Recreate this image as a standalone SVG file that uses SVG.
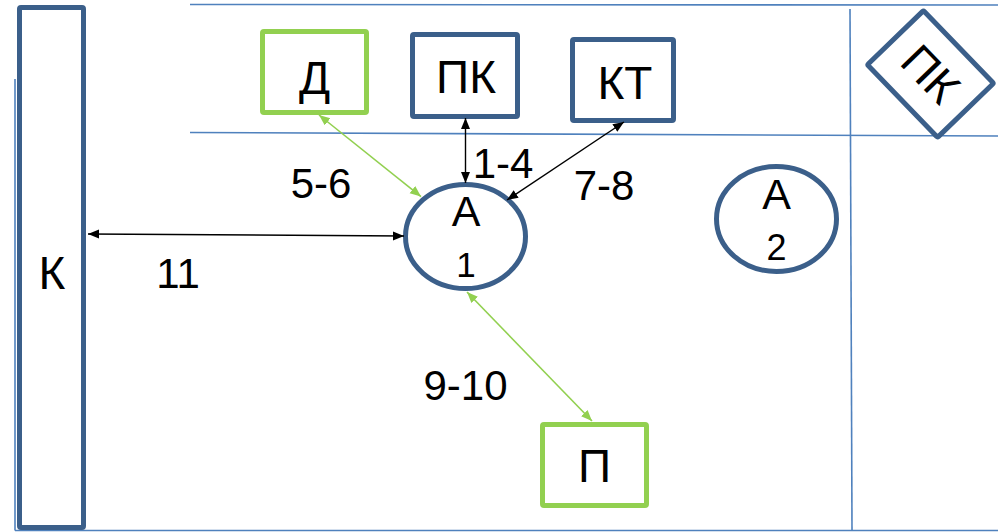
<svg xmlns="http://www.w3.org/2000/svg" width="998" height="532" viewBox="0 0 998 532">
<style>
.frame{stroke:#4f81bd;stroke-width:1.6;fill:none}
.bx{fill:#fff;stroke:#3b5f8a;stroke-width:5}
.gbx{fill:#fff;stroke:#92d050;stroke-width:5}
.t{font-family:"Liberation Sans",Arial,sans-serif;fill:#000;text-anchor:middle}
.bl{stroke:#000;stroke-width:1.4;fill:none}
.gl{stroke:#92d050;stroke-width:1.6;fill:none}
</style>
<defs>
<marker id="ab" markerUnits="userSpaceOnUse" markerWidth="12" markerHeight="10" refX="11" refY="4.5" orient="auto-start-reverse"><path d="M0,0 L11,4.5 L0,9 z" fill="#000"/></marker>
<marker id="ag" markerUnits="userSpaceOnUse" markerWidth="12" markerHeight="10" refX="11" refY="4.5" orient="auto-start-reverse"><path d="M0,0 L11,4.5 L0,9 z" fill="#92d050"/></marker>
</defs>
<rect width="998" height="532" fill="#fff"/>
<g id="frame">
<line class="frame" x1="190" y1="4.5" x2="998" y2="5"/>
<line class="frame" x1="190" y1="132.5" x2="998" y2="136"/>
<line class="frame" x1="850" y1="9" x2="852" y2="530"/>
<line class="frame" x1="15" y1="530.5" x2="998" y2="530.5"/>
<line class="frame" x1="15" y1="79" x2="15" y2="530.5"/>
</g>
<g id="K">
<rect class="bx" x="19.5" y="7.5" width="64" height="520" rx="1.5"/>
<text class="t" x="52" y="289" font-size="46">К</text>
</g>
<g id="D">
<rect class="gbx" x="262.5" y="31.5" width="104" height="81" rx="1.5"/>
<text class="t" x="314.5" y="94" font-size="46">Д</text>
</g>
<g id="PK">
<rect class="bx" x="412.5" y="34.5" width="105" height="82" rx="1.5"/>
<text class="t" x="466" y="93" font-size="46">ПК</text>
</g>
<g id="KT">
<rect class="bx" x="572.5" y="39.5" width="101" height="81" rx="1.5"/>
<text class="t" x="625" y="99" font-size="46">КТ</text>
</g>
<g id="PK2" transform="translate(930.5,74) rotate(46)">
<rect class="bx" x="-50.5" y="-39" width="101" height="78" rx="1.5"/>
<text class="t" x="0" y="16" font-size="46">ПК</text>
</g>
<g id="A1">
<ellipse class="bx" cx="465.5" cy="236.5" rx="60" ry="52"/>
<text class="t" x="466" y="226" font-size="43">А</text>
<text class="t" x="466" y="277" font-size="35">1</text>
</g>
<g id="A2">
<ellipse class="bx" cx="776.5" cy="219" rx="60" ry="52.5"/>
<text class="t" x="776.5" y="209" font-size="43">А</text>
<text class="t" x="776.5" y="260" font-size="36">2</text>
</g>
<g id="P">
<rect class="gbx" x="542.5" y="424.5" width="104" height="81" rx="1.5"/>
<text class="t" x="594.5" y="482" font-size="46">П</text>
</g>
<g id="connectors">
<line class="gl" x1="319" y1="115" x2="421" y2="196.5" marker-start="url(#ag)" marker-end="url(#ag)"/>
<line class="bl" x1="465.5" y1="118" x2="465.5" y2="183" marker-start="url(#ab)" marker-end="url(#ab)"/>
<line class="bl" x1="624" y1="122" x2="507" y2="200" marker-start="url(#ab)" marker-end="url(#ab)"/>
<line class="bl" x1="88" y1="234" x2="404" y2="236" marker-start="url(#ab)" marker-end="url(#ab)"/>
<line class="gl" x1="467" y1="292" x2="592" y2="421" marker-start="url(#ag)" marker-end="url(#ag)"/>
</g>
<g id="labels">
<text class="t" x="321" y="198" font-size="42">5-6</text>
<text class="t" x="503" y="178" font-size="42">1-4</text>
<text class="t" x="604" y="200" font-size="42">7-8</text>
<text class="t" x="178" y="288" font-size="42">11</text>
<text class="t" x="465.5" y="400" font-size="42">9-10</text>
</g>
</svg>
